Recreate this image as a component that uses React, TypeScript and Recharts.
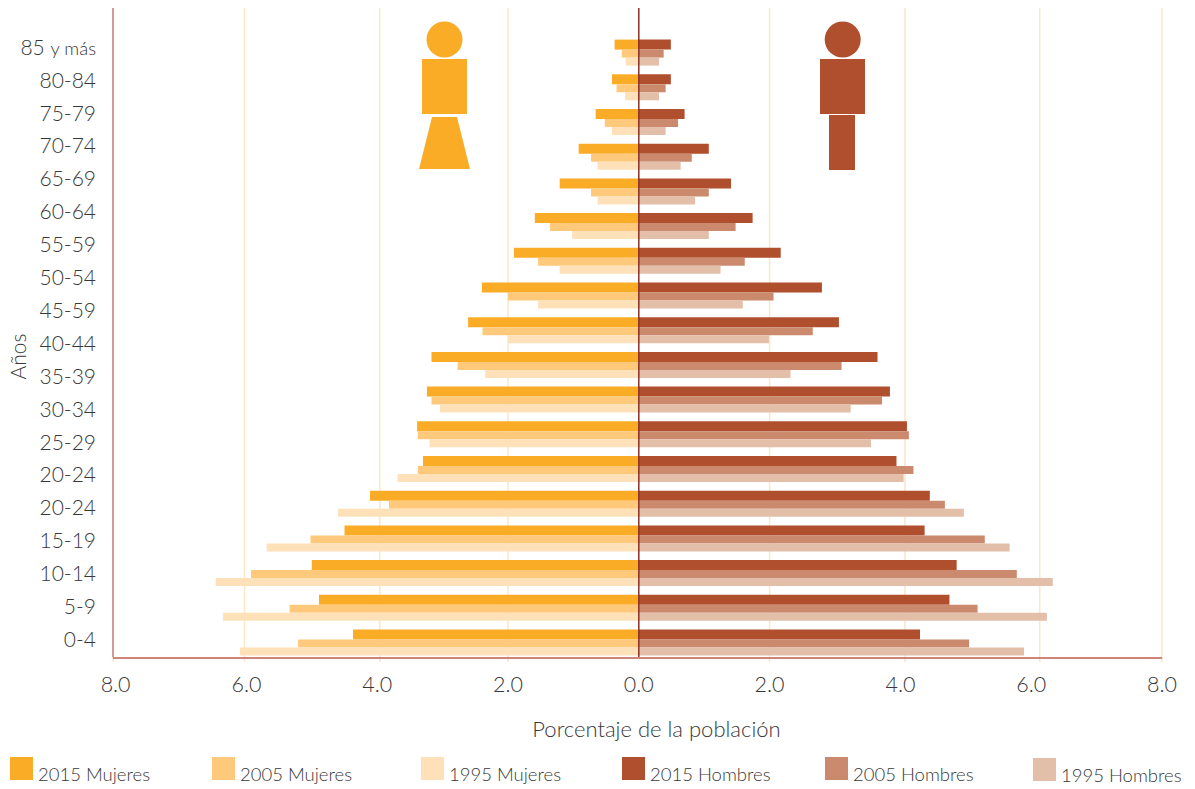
import React from "react";
import {
  BarChart,
  Bar,
  XAxis,
  YAxis,
  CartesianGrid,
  ReferenceLine,
  Legend,
} from "recharts";

// Age groups that carry bars, oldest first
const ageGroups = [
  "85+", "80-84", "75-79", "70-74", "65-69", "60-64", "55-59", "50-54", "45-49",
  "40-44", "35-39", "30-34", "25-29", "20-24", "15-19", "10-14", "5-9", "0-4",
];

// Labels printed down the left axis, from the bottom up
const ageLabels = [
  "0-4", "5-9", "10-14", "15-19", "20-24", "20-24", "25-29", "30-34", "35-39",
  "40-44", "45-59", "50-54", "55-59", "60-64", "65-69", "70-74", "75-79", "80-84", "85 y más",
];

// Share of the population, in percent
const mujeres2015 = [0.37, 0.41, 0.66, 0.92, 1.21, 1.59, 1.91, 2.4, 2.61, 3.17, 3.24, 3.39, 3.3, 4.11, 4.5, 5.0, 4.89, 4.37];
const mujeres2005 = [0.26, 0.34, 0.52, 0.73, 0.73, 1.36, 1.54, 2.0, 2.39, 2.77, 3.17, 3.38, 3.38, 3.82, 5.02, 5.93, 5.34, 5.21];
const mujeres1995 = [0.2, 0.21, 0.41, 0.63, 0.63, 1.02, 1.21, 1.54, 2.0, 2.35, 3.04, 3.2, 3.69, 4.6, 5.69, 6.47, 6.36, 6.1];
const hombres2015 = [0.49, 0.49, 0.7, 1.07, 1.41, 1.74, 2.17, 2.8, 3.06, 3.65, 3.84, 4.1, 3.94, 4.45, 4.37, 4.86, 4.75, 4.3];
const hombres2005 = [0.38, 0.41, 0.6, 0.81, 1.07, 1.48, 1.62, 2.06, 2.66, 3.1, 3.72, 4.13, 4.2, 4.68, 5.29, 5.78, 5.18, 5.05];
const hombres1995 = [0.31, 0.31, 0.41, 0.64, 0.86, 1.07, 1.25, 1.59, 1.99, 2.32, 3.24, 3.55, 4.05, 4.97, 5.67, 6.33, 6.24, 5.89];

const xTicks = [-8, -6, -4, -2, 0, 2, 4, 6, 8];
const gridValues = [-8.04, -6.03, -3.96, -2, 2, 4.07, 6.13, 8];
const ageTickValues = ageLabels.map((_, i) => i);

const rows = ageGroups.map((age, i) => ({
  age,
  slot: i,
  m2015: -mujeres2015[i],
  m2005: -mujeres2005[i],
  m1995: -mujeres1995[i],
  h2015: hombres2015[i],
  h2005: hombres2005[i],
  h1995: hombres1995[i],
}));

const COLORS = {
  m2015: "#FBAC27",
  m2005: "#FEC97B",
  m1995: "#FEE1B8",
  h2015: "#B04F2D",
  h2005: "#CB8A6D",
  h1995: "#E3BFAA",
};

const legendEntries = [
  { name: "2015 Mujeres", color: COLORS.m2015 },
  { name: "2005 Mujeres", color: COLORS.m2005 },
  { name: "1995 Mujeres", color: COLORS.m1995 },
  { name: "2015 Hombres", color: COLORS.h2015 },
  { name: "2005 Hombres", color: COLORS.h2005 },
  { name: "1995 Hombres", color: COLORS.h1995 },
];
const legendOffsets = [10, 212, 421, 622, 825, 1033];

const FONT = "Lato, sans-serif";
const TEXT = "#383838";

function AgeTick({ x, y, payload }: any) {
  const label = ageLabels[payload.value] ?? "";
  const small = label.endsWith("y más");
  return (
    <text
      x={x}
      y={y + 7}
      textAnchor="end"
      fontFamily={FONT}
      fontWeight={300}
      fontSize={21}
      fill={TEXT}
    >
      {small ? (
        <>
          <tspan>85 </tspan>
          <tspan fontSize={18.5}>y más</tspan>
        </>
      ) : (
        label
      )}
    </text>
  );
}

// The grid axis only contributes its short tick marks, never any text
function NoTickText() {
  return <g />;
}

function LegendRow() {
  return (
    <div
      style={{
        position: "relative",
        height: 32,
        fontFamily: FONT,
        fontWeight: 300,
        fontSize: 18.5,
        color: TEXT,
      }}
    >
      {legendEntries.map((e, i) => (
        <div
          key={e.name}
          style={{ position: "absolute", left: legendOffsets[i], top: i === 5 ? 1 : 0, display: "flex" }}
        >
          <span style={{ width: 23, height: 23, background: e.color, marginRight: 5 }} />
          <span style={{ lineHeight: "24px", paddingTop: 5, whiteSpace: "nowrap" }}>{e.name}</span>
        </div>
      ))}
    </div>
  );
}

// Pictograms for women and men at the top of each half
function Figures() {
  return (
    <svg
      width={1195}
      height={200}
      style={{ position: "absolute", left: 0, top: 0, pointerEvents: "none" }}
    >
      <g fill={COLORS.m2015}>
        <circle cx={444.5} cy={39.5} r={18} />
        <rect x={422} y={59} width={45} height={55} />
        <polygon points="432,117 457,117 470,169 419,169" />
      </g>
      <g fill={COLORS.h2015}>
        <circle cx={842.7} cy={39.5} r={18} />
        <rect x={820} y={59} width={45} height={55} />
        <rect x={829} y={115} width={26} height={55} />
      </g>
    </svg>
  );
}

export default function App() {
  return (
    <div style={{ position: "absolute", left: 0, top: 0, width: 1195, height: 789, background: "#fff" }}>
      <BarChart
        width={1195}
        height={789}
        data={rows}
        layout="vertical"
        stackOffset="sign"
        barGap={0}
        barCategoryGap={0}
        margin={{ top: 8, right: 33, bottom: 20, left: 0 }}
      >
        <CartesianGrid
          horizontal={false}
          vertical
          xAxisId="grid"
          stroke="#FBE6C8"
          strokeWidth={1.5}
        />
        <XAxis
          xAxisId="grid"
          type="number"
          domain={[-8.04, 8]}
          ticks={gridValues}
          allowDataOverflow
          height={1}
          axisLine={false}
          tickSize={5}
          tickLine={{ stroke: "#FBE6C8", strokeWidth: 1.5 }}
          tick={<NoTickText />}
        />
        <XAxis
          xAxisId="main"
          type="number"
          domain={[-8.04, 8]}
          ticks={xTicks}
          allowDataOverflow
          height={79}
          tickLine={false}
          tickMargin={13}
          axisLine={{ stroke: "#C25B50", strokeWidth: 1.5 }}
          tick={{ fontFamily: FONT, fontWeight: 300, fontSize: 21.5, fill: TEXT }}
          tickFormatter={(v: number) => Math.abs(v).toFixed(1)}
          label={{
            value: "Porcentaje de la población",
            position: "insideBottom",
            offset: 0,
            dx: 19,
            fontFamily: FONT,
            fontWeight: 300,
            fontSize: 22,
            fill: TEXT,
          }}
        />
        <YAxis
          type="category"
          dataKey="age"
          width={0}
          hide
          padding={{ top: 27.6, bottom: -3.2 }}
        />
        <YAxis
          yAxisId="labels"
          type="number"
          dataKey="slot"
          reversed
          domain={[-0.52, 19.21]}
          ticks={ageTickValues}
          interval={0}
          allowDataOverflow
          width={113}
          tickLine={false}
          tickMargin={11}
          axisLine={{ stroke: "#D49A90", strokeWidth: 2 }}
          tick={<AgeTick />}
          label={{
            value: "Años",
            angle: -90,
            position: "insideLeft",
            offset: 0,
            dx: 19,
            dy: 47,
            fontFamily: FONT,
            fontWeight: 300,
            fontSize: 21,
            fill: TEXT,
          }}
        />
        <Bar xAxisId="main" dataKey="m2015" name="2015 Mujeres" stackId="s2015" barSize={10} fill={COLORS.m2015} isAnimationActive={false} />
        <Bar xAxisId="main" dataKey="h2015" name="2015 Hombres" stackId="s2015" barSize={10} fill={COLORS.h2015} isAnimationActive={false} />
        <Bar xAxisId="main" dataKey="m2005" name="2005 Mujeres" stackId="s2005" barSize={8} fill={COLORS.m2005} isAnimationActive={false} />
        <Bar xAxisId="main" dataKey="h2005" name="2005 Hombres" stackId="s2005" barSize={8} fill={COLORS.h2005} isAnimationActive={false} />
        <Bar xAxisId="main" dataKey="m1995" name="1995 Mujeres" stackId="s1995" barSize={8} fill={COLORS.m1995} isAnimationActive={false} />
        <Bar xAxisId="main" dataKey="h1995" name="1995 Hombres" stackId="s1995" barSize={8} fill={COLORS.h1995} isAnimationActive={false} />
        <ReferenceLine xAxisId="main" x={0} stroke="#8E2F26" strokeWidth={1.5} />
        <Legend
          verticalAlign="bottom"
          height={40}
          content={<LegendRow />}
          wrapperStyle={{ left: 0, top: 757, width: 1195, height: 32 }}
        />
      </BarChart>
      <Figures />
    </div>
  );
}
